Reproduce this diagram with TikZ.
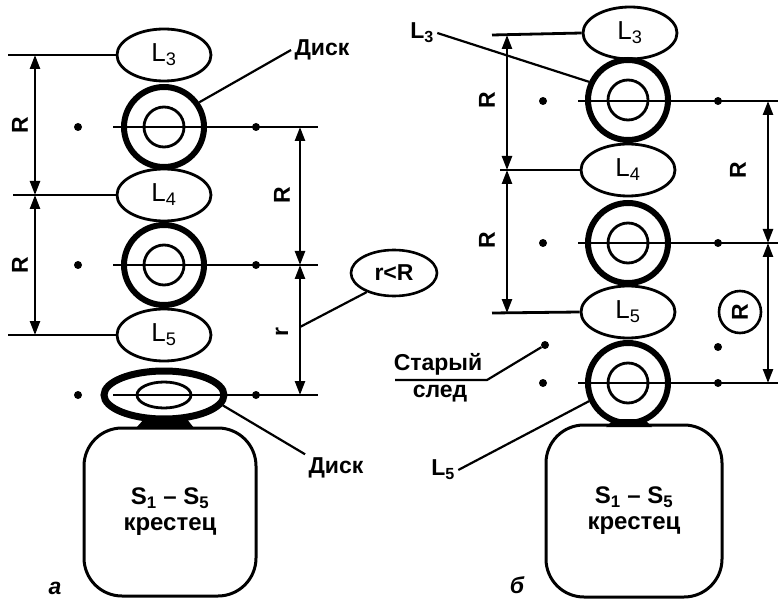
\documentclass[tikz,border=0pt]{standalone}
\usepackage{fontspec}
\setmainfont{Liberation Sans}
\usetikzlibrary{arrows.meta,shapes.geometric,positioning}

\begin{document}
\begin{tikzpicture}[
  x=1pt, y=-1pt,
  >={Triangle[length=14pt,width=10pt]},
  vert/.style={ellipse, draw, line width=2.8pt, minimum width=94pt, minimum height=52pt, inner sep=0pt, font=\fontsize{26}{28}\selectfont},
  disk/.style={circle, draw, line width=6pt, minimum size=80pt, inner sep=0pt},
  nucl/.style={circle, draw, line width=2.8pt, minimum size=40pt, inner sep=0pt},
  level/.style={line width=2.8pt},
  dim/.style={<->, line width=2.4pt},
  leader/.style={line width=2.2pt},
  dot/.style={circle, fill, inner sep=0pt, minimum size=8pt},
  lab/.style={font=\bfseries\fontsize{23}{25}\selectfont},
  sacrum/.style={draw, line width=3pt, rounded corners=38pt, minimum width=172pt, minimum height=168pt, align=center, font=\bfseries\fontsize{24}{26}\selectfont},
]
\useasboundingbox (0,0) rectangle (778,601);

% ---------------- panel a ----------------
\node[vert] (L3a) at (164,55) {L\textsubscript{3}};
\node[vert] (L4a) at (164,195) {L\textsubscript{4}};
\node[vert] (L5a) at (164,335) {L\textsubscript{5}};
\node[disk] (D1a) at (164,127) {};
\node[nucl] (N1a) at (D1a) {};
\node[disk] (D2a) at (164,265) {};
\node[nucl] (N2a) at (D2a) {};
% flattened disk
\node[ellipse, draw, line width=7pt, minimum width=120pt, minimum height=48pt] (D3a) at (164,395) {};
\node[ellipse, draw, line width=2.8pt, minimum width=54pt, minimum height=26pt] (N3a) at (D3a) {};
\fill (145,418) -- (186,418) -- (194,428) -- (136,428) -- cycle;
\node[sacrum] (Sa) at (170,512) {S\textsubscript{1} – S\textsubscript{5}\\крестец};

% levels through the disks
\foreach \n/\y in {1/127, 2/265, 3/395} {
  \coordinate (la\n) at (113,\y);
  \coordinate (ra\n) at (318,\y);
  \coordinate (ta\n) at (300,\y);
  \node[dot] (dra\n) at (256,\y) {};
  \node[dot] (dla\n) at (78,\y) {};
  \draw[level] (la\n) -- (ra\n);
}

% levels of the vertebrae
\coordinate (t3a) at (8,55);
\coordinate (t4a) at (13,195);
\coordinate (t5a) at (8,335);
\coordinate (k3a) at (35,55);
\coordinate (k4a) at (35,195);
\coordinate (k5a) at (35,335);
\draw[level] (t3a) -- (L3a.west);
\draw[level] (t4a) -- (L4a.west);
\draw[level] (t5a) -- (L5a.west);

\draw[dim] (k3a) -- (k4a);
\draw[dim] (k4a) -- (k5a);
\node[lab, rotate=90] (Ra1) at (20,125) {R};
\node[lab, rotate=90] (Ra2) at (20,265) {R};

\draw[dim] (ta1) -- (ta2);
\draw[dim] (ta2) -- (ta3);
\node[lab, rotate=90] (Ra3) at (282,195) {R};
\node[lab, rotate=90] (ra) at (282,332) {r};

\node[ellipse, draw, line width=2.6pt, minimum width=86pt, minimum height=46pt, inner sep=0pt, lab] (rR) at (394,273) {r<R};
\coordinate (rl) at (300,327);
\draw[leader] (rl) -- (rR.215);

\node[lab] (dk1) at (322,50) {Диск};
\draw[leader] (D1a.35) -- (dk1.west);
\node[lab] (dk2) at (336,468) {Диск};
\draw[leader] (D3a.-10) -- (dk2.north west);

\node[lab, font=\bfseries\itshape\fontsize{23}{25}\selectfont] (capa) at (55,588) {а};

% ---------------- panel b ----------------
\node[vert] (L3b) at (630,33) {L\textsubscript{3}};
\node[vert] (L4b) at (628,170) {L\textsubscript{4}};
\node[vert] (L5b) at (628,312) {L\textsubscript{5}};
\node[disk] (D1b) at (628,100) {};
\node[nucl] (N1b) at (D1b) {};
\node[disk] (D2b) at (628,243) {};
\node[nucl] (N2b) at (D2b) {};
\node[disk] (D3b) at (628,383) {};
\node[nucl] (N3b) at (D3b) {};
\fill (614,419) -- (644,419) -- (652,427) -- (606,427) -- cycle;
\node[sacrum, minimum width=176pt, minimum height=172pt] (Sb) at (634,511) {S\textsubscript{1} – S\textsubscript{5}\\крестец};

\foreach \n/\y in {1/101, 2/243, 3/383} {
  \coordinate (lb\n) at (578,\y);
  \coordinate (rb\n) at (778,\y);
  \coordinate (tb\n) at (768,\y);
  \node[dot] (drb\n) at (718,\y) {};
  \node[dot] (dlb\n) at (543,\y) {};
  \draw[level] (lb\n) -- (rb\n);
}

\coordinate (t3b) at (492,35);
\coordinate (t4b) at (500,170);
\coordinate (t5b) at (492,313);
\coordinate (k3b) at (507,35);
\coordinate (k4b) at (507,170);
\coordinate (k5b) at (507,313);
\draw[level] (t3b) -- (L3b.west);
\draw[level] (t4b) -- (L4b.west);
\draw[level] (t5b) -- (L5b.west);

\draw[dim] (k3b) -- (k4b);
\draw[dim] (k4b) -- (k5b);
\node[lab, rotate=90] (Rb1) at (487,100) {R};
\node[lab, rotate=90] (Rb2) at (487,240) {R};

\draw[dim] (tb1) -- (tb2);
\draw[dim] (tb2) -- (tb3);
\node[lab, rotate=90] (Rb3) at (738,170) {R};
\node[circle, draw, line width=2.6pt, minimum size=42pt, inner sep=0pt, lab, rotate=90] (cR) at (740,312) {R};
\node[dot] (dcR) at (718,347) {};

% old trace
\node[dot] (old) at (545,345) {};
\coordinate (ob) at (487,380);
\coordinate (oe) at (395,380);
\draw[leader] (old) -- (ob) -- (oe);
\node[lab] (st1) at (438,364) {Старый};
\node[lab] (st2) at (440,394) {след};

\node[lab] (lL3) at (422,33) {L\textsubscript{3}};
\draw[leader] (lL3.east) -- (D1b.155);
\node[lab] (lL5) at (443,470) {L\textsubscript{5}};
\draw[leader] (lL5.east) -- (D3b.205);

\node[lab, font=\bfseries\itshape\fontsize{23}{25}\selectfont] (capb) at (517,585) {б};
\end{tikzpicture}
\end{document}
